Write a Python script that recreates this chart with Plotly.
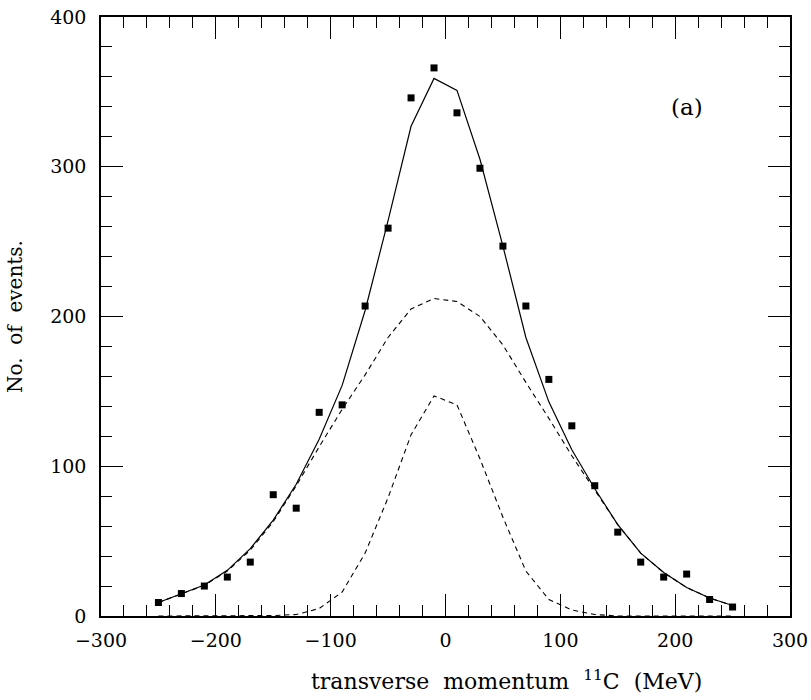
import plotly.graph_objects as go

# data points (measured)
x_data = [-250, -230, -210, -190, -170, -150, -130, -110, -90, -70, -50, -30, -10,
          10, 30, 50, 70, 90, 110, 130, 150, 170, 190, 210, 230, 250]
y_data = [9, 15, 20, 26, 36, 81, 72, 136, 141, 207, 259, 346, 366,
          336, 299, 247, 207, 158, 127, 87, 56, 36, 26, 28, 11, 6]

# curves
x_curve = [-250, -230, -210, -190, -170, -150, -130, -110, -90, -70, -50, -30, -10,
           10, 30, 50, 70, 90, 110, 130, 150, 170, 190, 210, 230, 250]
y_total = [9, 14.6, 20.7, 30.5, 45, 64, 88, 118, 154, 204, 264, 327, 359,
           351, 305, 247, 186, 143, 111, 85, 61, 42, 29, 19, 12, 7]
y_broad = [9, 14.5, 20.5, 30, 44, 63, 87, 113, 138, 161, 186, 205, 212,
           210, 200, 181, 156, 132, 107, 84, 61, 42, 29, 19, 12, 7]
y_narrow = [0, 0, 0, 0, 0, 0.3, 1, 5, 16, 42, 79, 121, 147,
            141, 105, 66, 30, 11, 4, 1, 0, 0, 0, 0, 0, 0]

FONT = "DejaVu Serif"

fig = go.Figure()
fig.add_trace(go.Scatter(x=x_curve, y=y_narrow, mode="lines",
                         line=dict(color="black", width=1.1, dash="5px,4px")))
fig.add_trace(go.Scatter(x=x_curve, y=y_broad, mode="lines",
                         line=dict(color="black", width=1.1, dash="5px,4px")))
fig.add_trace(go.Scatter(x=x_curve, y=y_total, mode="lines",
                         line=dict(color="black", width=1.2)))
fig.add_trace(go.Scatter(x=x_data, y=y_data, mode="markers",
                         marker=dict(symbol="square", size=7, color="black")))

fig.add_annotation(x=210, y=340, text="(a)", showarrow=False,
                   font=dict(family=FONT, size=23, color="black"))

# x-axis title (placed off-centre as in the reference)
fig.add_annotation(xref="paper", yref="paper", x=0.589, y=-0.107,
                   xanchor="center", yanchor="middle", showarrow=False,
                   text="transverse  momentum  <sup>11</sup>C  (MeV)",
                   font=dict(family=FONT, size=22, color="black"))

axis_common = dict(
    showgrid=False, zeroline=False, showline=True, linecolor="black", linewidth=1.5,
    mirror="ticks", ticks="inside", ticklen=22, tickwidth=1, tickcolor="black",
    tickfont=dict(family=FONT, size=19, color="black"), automargin=False,
)

fig.update_xaxes(range=[-300, 300], dtick=100, tick0=0,
                 minor=dict(dtick=20, ticks="inside", ticklen=11, tickcolor="black", tickwidth=1),
                 ticklabelstandoff=6,
                 **axis_common)
fig.update_yaxes(range=[0, 400], dtick=100, tick0=0,
                 minor=dict(dtick=20, ticks="inside", ticklen=11, tickcolor="black", tickwidth=1),
                 title=dict(text="No.  of  events.",
                            font=dict(family=FONT, size=20, color="black"), standoff=22),
                 ticklabelstandoff=9,
                 **axis_common)

fig.update_layout(
    width=811, height=700,
    margin=dict(l=101, r=21, t=17, b=84),
    paper_bgcolor="white", plot_bgcolor="white",
    showlegend=False,
)

fig.write_html("out.html")
